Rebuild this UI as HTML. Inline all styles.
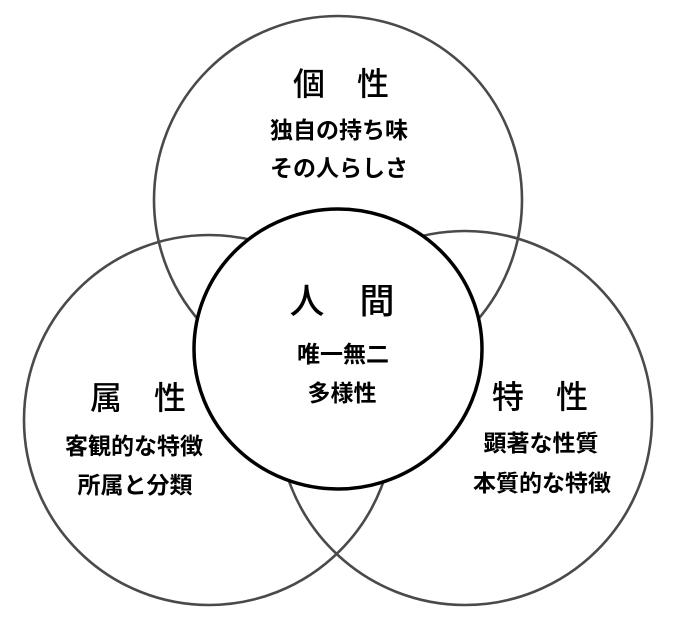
<!DOCTYPE html>
<html><head><meta charset="utf-8"><style>
html,body{margin:0;padding:0;background:#fff;}
svg{display:block;}
text{font-family:"Liberation Sans","Noto Sans CJK JP",sans-serif;fill:#000;text-anchor:middle;dominant-baseline:central;}
.h{font-size:32px;font-weight:500;}
.s{font-size:23px;font-weight:bold;}
</style></head><body>
<svg width="674" height="630" viewBox="0 0 674 630" xmlns="http://www.w3.org/2000/svg">
<g fill="none" stroke="#4a4a4a" stroke-width="2.6">
<circle cx="338" cy="200" r="184"/>
<circle cx="209" cy="420" r="185"/>
<circle cx="465" cy="418" r="187"/>
</g>
<ellipse cx="338" cy="349" rx="144" ry="140" fill="#fff" stroke="#000" stroke-width="3.5"/>
<text class="h" x="341" y="84">個　性</text>
<text class="s" x="339" y="130">独自の持ち味</text>
<text class="s" x="339" y="168">その人らしさ</text>
<text class="h" x="342" y="302" style="font-size:35px">人　間</text>
<text class="s" x="343" y="354">唯一無二</text>
<text class="s" x="342" y="393">多様性</text>
<text class="h" x="138" y="398">属　性</text>
<text class="s" x="134" y="446">客観的な特徴</text>
<text class="s" x="135" y="485">所属と分類</text>
<text class="h" x="540" y="397">特　性</text>
<text class="s" x="541" y="443">顕著な性質</text>
<text class="s" x="542" y="483">本質的な特徴</text>
</svg>
</body></html>
